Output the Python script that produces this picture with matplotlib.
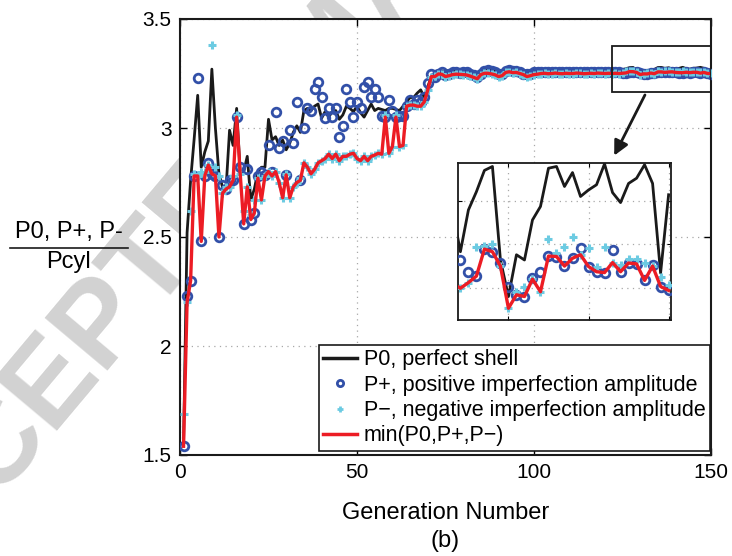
import numpy as np
import matplotlib
matplotlib.use('Agg')
import matplotlib.pyplot as plt
from matplotlib.lines import Line2D
from matplotlib.patches import Rectangle

plt.rcParams['font.family'] = ['Liberation Sans', 'DejaVu Sans']

gen = np.arange(1, 151)

# P0, perfect shell
p0 = [1.55, 2.52, 2.76, 2.95, 3.15, 2.82, 2.89, 2.94, 3.27, 3.00,
      2.79, 2.73, 2.72, 2.99, 2.92, 3.09, 2.80, 2.80, 2.87, 2.67,
      2.72, 2.80, 2.82, 2.82, 3.04, 2.945, 2.96, 2.92, 2.945, 2.90,
      2.93, 2.98, 3.01, 2.98, 3.08, 3.09, 3.08, 3.10, 3.11, 3.045,
      3.075, 3.05, 3.075, 3.08, 3.04, 3.06, 3.10, 3.09, 3.075, 3.10,
      3.07, 3.05, 3.08, 3.11, 3.08, 3.09, 3.085, 3.08, 3.09, 3.09,
      3.085, 3.08, 3.10, 3.12, 3.14, 3.14, 3.16, 3.175, 3.14, 3.19,
      3.236, 3.245, 3.255, 3.262, 3.258, 3.265, 3.262, 3.268, 3.260, 3.263,
      3.266, 3.258, 3.255, 3.252, 3.262, 3.270, 3.272, 3.265, 3.262, 3.258,
      3.262, 3.270, 3.272, 3.268, 3.272, 3.265, 3.262, 3.258, 3.262, 3.266,
      3.268, 3.265, 3.270, 3.268, 3.266, 3.270, 3.268, 3.266, 3.270, 3.268,
      3.268, 3.270, 3.266, 3.268, 3.270, 3.266, 3.268, 3.270, 3.268, 3.266,
      3.268, 3.270, 3.268, 3.2583, 3.2679, 3.2721, 3.2770, 3.2779, 3.2564, 3.2480,
      3.2576, 3.2564, 3.2656, 3.2687, 3.2775, 3.2779, 3.2733, 3.2765, 3.2710, 3.2725,
      3.2737, 3.2785, 3.2719, 3.2696, 3.2740, 3.2752, 3.2783, 3.2740, 3.2534, 3.2714]

# P+, positive imperfection amplitude
p_pos = [1.54, 2.23, 2.30, 2.78, 3.23, 2.48, 2.78, 2.84, 2.79, 2.78,
         2.50, 2.74, 2.72, 2.76, 2.76, 3.05, 2.82, 2.56, 2.81, 2.58,
         2.61, 2.78, 2.80, 2.785, 2.92, 2.80, 3.075, 2.907, 2.94, 2.785,
         2.99, 2.93, 3.12, 2.76, 3.00, 3.09, 3.08, 3.18, 3.21, 3.14,
         3.045, 3.09, 3.05, 3.09, 2.96, 3.01, 3.18, 3.12, 3.05, 3.12,
         3.09, 3.19, 3.21, 3.14, 3.18, 3.14, 3.055, 3.05, 3.13, 3.08,
         3.05, 3.055, 3.055, 3.10, 3.13, 3.11, 3.13, 3.12, 3.14, 3.205,
         3.25, 3.236, 3.25, 3.255, 3.245, 3.250, 3.256, 3.255, 3.252, 3.256,
         3.258, 3.250, 3.242, 3.236, 3.250, 3.262, 3.264, 3.260, 3.255, 3.246,
         3.250, 3.262, 3.264, 3.260, 3.262, 3.256, 3.250, 3.246, 3.250, 3.255,
         3.258, 3.256, 3.258, 3.255, 3.257, 3.258, 3.256, 3.255, 3.258, 3.257,
         3.256, 3.258, 3.257, 3.255, 3.258, 3.256, 3.257, 3.258, 3.256, 3.257,
         3.258, 3.256, 3.257, 3.2564, 3.2537, 3.2527, 3.2589, 3.2583, 3.2558, 3.2503,
         3.2484, 3.2480, 3.2522, 3.2537, 3.2573, 3.2572, 3.2550, 3.2568, 3.2591, 3.2549,
         3.2537, 3.2535, 3.2586, 3.2537, 3.2557, 3.2555, 3.2517, 3.2553, 3.2503, 3.2494]

# P-, negative imperfection amplitude
p_neg = [1.69, 2.20, 2.62, 2.79, 2.78, 2.80, 2.80, 2.83, 3.38, 2.82,
         2.78, 2.70, 2.73, 2.73, 2.78, 3.06, 2.79, 2.62, 2.73, 2.60,
         2.67, 2.77, 2.67, 2.78, 2.80, 2.78, 2.80, 2.75, 2.68, 2.79,
         2.68, 2.73, 2.75, 2.77, 2.84, 2.82, 2.79, 2.81, 2.84, 2.85,
         2.86, 2.88, 2.86, 2.88, 2.85, 2.87, 2.87, 2.88, 2.884, 2.86,
         2.85, 2.87, 2.85, 2.87, 2.876, 2.884, 2.88, 3.06, 2.884, 2.915,
         3.06, 2.915, 2.92, 3.10, 3.105, 3.105, 3.10, 3.10, 3.12, 3.175,
         3.236, 3.24, 3.248, 3.246, 3.236, 3.240, 3.245, 3.247, 3.246, 3.245,
         3.243, 3.238, 3.232, 3.226, 3.245, 3.251, 3.251, 3.248, 3.244, 3.236,
         3.240, 3.255, 3.258, 3.254, 3.255, 3.250, 3.245, 3.236, 3.240, 3.245,
         3.247, 3.250, 3.251, 3.249, 3.250, 3.252, 3.250, 3.249, 3.251, 3.250,
         3.250, 3.252, 3.251, 3.249, 3.250, 3.251, 3.250, 3.252, 3.251, 3.250,
         3.251, 3.250, 3.251, 3.2499, 3.2512, 3.2595, 3.2596, 3.2600, 3.2550, 3.2453,
         3.2491, 3.2503, 3.2520, 3.2491, 3.2612, 3.2580, 3.2593, 3.2616, 3.2576, 3.2591,
         3.2549, 3.2593, 3.2558, 3.2553, 3.2566, 3.2566, 3.2557, 3.2550, 3.2526, 3.2507]

p_min = np.minimum(np.minimum(p0, p_pos), p_neg)

x_ticks = [0, 50, 100, 150]
y_ticks = [1.5, 2, 2.5, 3, 3.5]
y_ticklabels = ['1.5', '2', '2.5', '3', '3.5']

c_black = '#1a1a1a'
c_blue = '#3250a8'
c_cyan = '#6ccbe2'
c_red = '#ec1c24'
grid_kw = dict(color='#a8a8a8', linestyle=(0, (1, 3.5)), linewidth=0.9)


def draw_series(ax, ms_o, ms_p):
    ax.plot(gen, p0, color=c_black, lw=2.0, zorder=2)
    ax.plot(gen, p_pos, 'o', mfc='none', mec=c_blue, mew=2.0, ms=ms_o, zorder=3)
    ax.plot(gen, p_neg, '+', color=c_cyan, mew=2.2, ms=ms_p, zorder=4)
    ax.plot(gen, p_min, color=c_red, lw=2.4, zorder=5)


fig = plt.figure(figsize=(7.32, 5.56), dpi=100)

# watermark, sits behind the axes
fig.text(0.46, 0.91, 'ACCEPTED MANUSCRIPT', fontsize=85, fontweight='bold',
         color='#d2d2d2', rotation=50, ha='center', va='center', zorder=-1)

ax = fig.add_axes([180 / 732, 1 - 455 / 556, 531 / 732, 436 / 556])
ax.set_facecolor('white')
draw_series(ax, 6.2, 6.0)
ax.set_xlim(0, 150)
ax.set_ylim(1.5, 3.5)
ax.set_xticks(x_ticks)
ax.set_yticks(y_ticks)
ax.set_yticklabels(y_ticklabels)
ax.tick_params(direction='in', length=5, width=1, labelsize=15, top=True, right=True, pad=6)
ax.grid(True, **grid_kw)
for s in ax.spines.values():
    s.set_linewidth(1.5)
    s.set_color(c_black)
ax.set_xlabel('Generation Number', fontsize=17, labelpad=14)

# zoom box and arrow
ax.add_patch(Rectangle((122, 3.165), 28, 0.213, fill=False, edgecolor=c_black, lw=1.3, zorder=6))
ax.annotate('', xy=(122.3, 2.862), xytext=(131.7, 3.163),
            arrowprops=dict(arrowstyle='-|>', color=c_black, lw=2.0, mutation_scale=22), zorder=6)

handles = [Line2D([], [], color=c_black, lw=2.5),
           Line2D([], [], marker='o', ls='none', mfc='none', mec=c_blue, mew=2.0, ms=4.5),
           Line2D([], [], marker='+', ls='none', color=c_cyan, mew=2.0, ms=5),
           Line2D([], [], color=c_red, lw=2.5)]
labels = ['P0, perfect shell', 'P+, positive imperfection amplitude',
          'P\u2212, negative imperfection amplitude', 'min(P0,P+,P\u2212)']
leg = ax.legend(handles, labels, loc='lower right', fontsize=15.5, frameon=True, fancybox=False,
                edgecolor=c_black, framealpha=1, borderaxespad=0.2, handlelength=1.6,
                handletextpad=0.3, labelspacing=0.2, borderpad=0.2,
                bbox_to_anchor=(1.006, 0.0))
leg.get_frame().set_linewidth(1.2)
leg.set_zorder(10)

# inset
axi = fig.add_axes([458 / 732, 1 - 320 / 556, 213 / 732, 157 / 556])
draw_series(axi, 6.2, 6.0)
axi.set_xlim(123.7, 150.3)
axi.set_ylim(3.2426, 3.2787)
axi.set_xticks([130, 140, 150])
axi.set_yticks([3.25, 3.26, 3.27])
axi.set_xticklabels([])
axi.set_yticklabels([])
axi.tick_params(direction='in', length=3, top=True, right=True)
axi.grid(True, **grid_kw)
for s in axi.spines.values():
    s.set_linewidth(1.3)
    s.set_color(c_black)

# y label as a fraction
fig.text(69 / 732, 1 - 232 / 556, 'P0, P+, P-', fontsize=17, ha='center', va='center')
fig.text(69 / 732, 1 - 262 / 556, 'Pcyl', fontsize=17, ha='center', va='center')
fig.add_artist(Line2D([10 / 732, 128 / 732], [1 - 248 / 556, 1 - 248 / 556], color=c_black, lw=1.2))

fig.text(445 / 732, 1 - 541 / 556, '(b)', fontsize=17, ha='center', va='center')

fig.savefig('out.png', dpi=100)
